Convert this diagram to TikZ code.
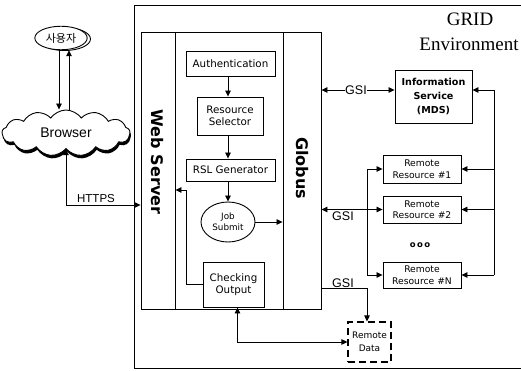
\documentclass[tikz,border=0pt]{standalone}
\usepackage{fontspec}
\setmainfont{DejaVu Sans}
\newfontfamily\tms{Liberation Serif}
\newfontfamily\kr{Noto Sans CJK KR}
\newfontfamily\ars{Liberation Sans}
\usetikzlibrary{arrows.meta,shapes.geometric,shapes.symbols,calc}
\tikzset{
  box/.style={draw,line width=0.9pt,fill=white,inner sep=0pt,align=center,font=\fontsize{10.3}{12.5}\selectfont},
  col/.style={draw,line width=0.9pt,inner sep=0pt},
  arr/.style={line width=0.8pt,-{Triangle[length=6pt,width=5.5pt]}},
  arrb/.style={line width=0.8pt,{Triangle[length=6pt,width=5.5pt]}-{Triangle[length=6pt,width=5.5pt]}},
  lab/.style={inner sep=0.5pt,font=\ars\fontsize{12.5}{12.5}\selectfont},
  rrbox/.style={box,minimum width=78pt,font=\fontsize{9.2}{11.5}\selectfont},
}
\begin{document}
\begin{tikzpicture}[x=1pt,y=-1pt]
\useasboundingbox (0,0) rectangle (521,370);
% outer GRID environment box
\draw[line width=0.8pt] (525,5) -- (134,5) -- (134,368) -- (525,368);
\node[font=\tms\fontsize{19}{19}\selectfont] (grid) at (470,19) {GRID};
\node[font=\tms\fontsize{19}{19}\selectfont] (env) at (469,44) {Environment};
% columns
\node[col,minimum width=34pt,minimum height=277pt] (ws) at (158,170.5) {};
\node[col,minimum width=108pt,minimum height=277pt] (mid) at (229,170.5) {};
\node[col,minimum width=38pt,minimum height=277pt] (glob) at (302,170.5) {};
\node[rotate=-90,font=\bfseries\fontsize{16}{16}\selectfont] (wst) at (157,162) {Web Server};
\node[rotate=-90,font=\bfseries\fontsize{16}{16}\selectfont] (gt) at (302,168) {Globus};
% middle boxes
\node[box,minimum width=89pt,minimum height=25pt] (auth) at (230.5,63.5) {Authentication};
\node[box,minimum width=66pt,minimum height=38pt] (rsel) at (230,116) {Resource\\Selector};
\node[box,minimum width=89pt,minimum height=22pt] (rsl) at (230.5,170) {RSL Generator};
\node[box,ellipse,minimum width=54pt,minimum height=40pt,font=\fontsize{8.8}{11}\selectfont] (job) at (228,222) {Job\\Submit};
\node[box,minimum width=61pt,minimum height=45pt] (chk) at (233.5,284.5) {Checking\\Output};
\draw[arr] ([xshift=-2.5pt]auth.south) -- ([xshift=-2.5pt]auth.south |- rsel.north);
\draw[arr] ([xshift=-2pt]rsel.south) -- ([xshift=-2pt]rsel.south |- rsl.north);
\draw[arr] ([xshift=-2.5pt]rsl.south) -- ([xshift=-2.5pt]rsl.south |- job.north);
\draw[arr] (job.east) -- (glob.west |- job.east);
\coordinate (c1) at (186,190);
\draw[arr] (chk.west) -| (c1) -- (ws.east |- c1);
% user and browser
\node[draw,ellipse,line width=0.9pt,minimum width=52pt,minimum height=23pt] (ushadow) at (64.5,39) {};
\node[draw,ellipse,line width=0.9pt,fill=white,minimum width=52pt,minimum height=23pt,font=\kr\fontsize{11}{11}\selectfont] (user) at (61,38) {사용자};
\node[cloud,cloud puffs=13,cloud puff arc=110,aspect=2.6,fill=black,minimum width=128pt,minimum height=46pt,inner sep=0pt] (bshadow) at (67,136) {};
\node[cloud,cloud puffs=13,cloud puff arc=110,aspect=2.6,draw,line width=0.9pt,fill=white,minimum width=128pt,minimum height=46pt,inner sep=0pt,font=\ars\fontsize{14}{14}\selectfont] (browser) at (66,133) {Browser};
\draw[arr] ([xshift=-2pt]user.south) -- ([xshift=-2pt]user.south |- browser.north);
\draw[arr] ([xshift=8pt]user.south |- browser.north) -- ([xshift=8pt]user.south);
\coordinate (h) at (66,205);
\draw[arrb] (browser.south) |- (ws.west |- h);
\node[lab,font=\ars\fontsize{11.5}{11.5}\selectfont,anchor=south] (https) at (96,203) {HTTPS};
% grid side
\node[box,minimum width=77pt,minimum height=53pt,font=\bfseries\fontsize{9.6}{14}\selectfont] (info) at (433.5,96.5) {Information\\Service\\(MDS)};
\node[rrbox,minimum height=28pt] (rr1) at (422,169) {Remote\\Resource \#1};
\node[rrbox,minimum height=27pt] (rr2) at (422,209.5) {Remote\\Resource \#2};
\node[rrbox,minimum height=26pt] (rrn) at (422,275) {Remote\\Resource \#N};
\node[font=\bfseries\fontsize{8.5}{8.5}\selectfont] (dots) at (420,245) {o\,o\,o};
\node[draw,dashed,dash pattern=on 7pt off 4pt,line width=1.1pt,minimum width=43pt,minimum height=40pt,inner sep=0pt,align=center,font=\fontsize{9}{12.5}\selectfont] (rdata) at (369.5,342) {Remote\\Data};
% GSI to info
\coordinate (p1) at ([yshift=6.5pt]info.west);
\draw[arrb] (glob.east |- p1) -- (p1);
\node[lab,fill=white] (gsi1) at (356,90) {GSI};
% right bus
\coordinate (rb) at (494,90);
\draw[line width=0.8pt] (rb) -- (rb |- rrn.east);
\draw[arr] (rb) -- (rb -| info.east);
\draw[arr] (rb |- rr1.east) -- (rr1.east);
\draw[arr] (rb |- rr2.east) -- (rr2.east);
\draw[arr] (rb |- rrn.east) -- (rrn.east);
% left bus
\coordinate (lb) at (367,209.5);
\draw[line width=0.8pt] (lb |- rr1.west) -- (lb |- rrn.west);
\draw[arr] (lb |- rr1.west) -- (rr1.west);
\draw[arr] (lb |- rrn.west) -- (rrn.west);
\draw[arrb] (glob.east |- rr2.west) -- (rr2.west);
\node[lab,anchor=north] (gsi2) at (343,211) {GSI};
% remote data
\coordinate (g3) at (321,288);
\draw[arr] (g3) -| ([xshift=-2.5pt]rdata.north);
\node[lab,anchor=south] (gsi3) at (343,288) {GSI};
\draw[arrb] ([xshift=4pt]chk.south) |- (rdata.west);
\end{tikzpicture}
\end{document}
